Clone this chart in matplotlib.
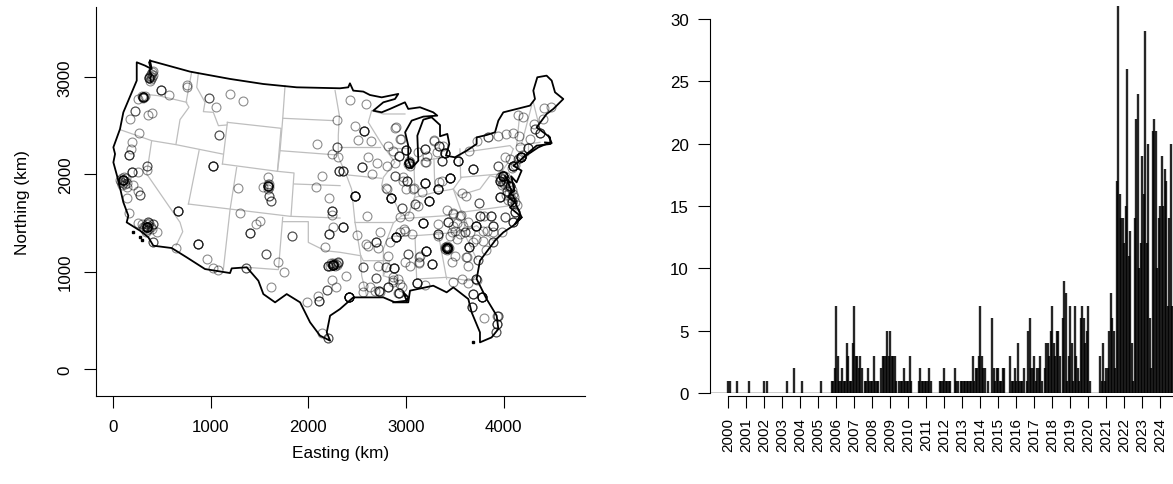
import numpy as np
import matplotlib
matplotlib.use('Agg')
import matplotlib.pyplot as plt

plt.rcParams['font.family'] = ['Liberation Sans', 'DejaVu Sans']

# outline of the lower 48, km
outline_e = [379, 789, 1198, 1539, 1880, 2324, 2408, 2425, 2459, 2562, 2630, 2750, 2920, 2886, 2767, 2664,
             2750, 2835, 2988, 3022, 3142, 3278, 3319, 3176, 3057, 2990, 3022, 3022, 3057, 3125, 3115, 3176,
             3261, 3347, 3347, 3422, 3442, 3408, 3500, 3620, 3722, 3722, 3824, 3910, 3944, 3995, 4268, 4319,
             4302, 4343, 4438, 4490, 4524, 4609, 4507, 4438, 4387, 4336, 4473, 4479, 4336, 4234, 4165, 4097,
             4182, 4131, 4075, 4110, 4060, 4097, 4131, 4182, 4097, 3995, 3910, 3756, 3722, 3824, 3927, 3944,
             3875, 3756, 3756, 3671, 3637, 3483, 3415, 3278, 3040, 3022, 2886, 2767, 2596, 2459, 2323, 2222,
             2188, 2222, 2119, 2017, 1915, 1778, 1659, 1539, 1488, 1369, 1215, 1198, 942, 755, 601, 413, 362,
             277, 140, 157, 106, 55, 4, 21, 4, 72, 106, 192, 243, 243, 328, 396, 379]
outline_n = [3168, 3055, 2980, 2928, 2894, 2884, 2894, 2935, 2860, 2850, 2815, 2791, 2826, 2774, 2740, 2654,
             2637, 2672, 2740, 2672, 2689, 2637, 2603, 2593, 2552, 2432, 2295, 2141, 2062, 2141, 2397, 2562,
             2586, 2507, 2391, 2415, 2312, 2192, 2175, 2243, 2312, 2380, 2404, 2432, 2552, 2637, 2706, 2774,
             2860, 2997, 3014, 2963, 2843, 2774, 2672, 2620, 2552, 2483, 2380, 2312, 2295, 2209, 2141, 2089,
             2038, 1918, 1980, 1830, 1800, 1781, 1678, 1558, 1473, 1404, 1319, 1113, 925, 719, 548, 411,
             325, 274, 377, 582, 719, 839, 788, 856, 805, 685, 685, 736, 736, 736, 616, 548,
             377, 291, 343, 480, 685, 770, 685, 770, 907, 1045, 1034, 986, 1027, 1147, 1243, 1267, 1353,
             1421, 1507, 1575, 1713, 1935, 2123, 2209, 2278, 2466, 2637, 2843, 2963, 3151, 3117, 3082, 3168]

# bits of coast the outline skips: sounds, bays, islands
coast_bits = [
    ([370, 385, 375, 395, 380, 390], [3150, 3090, 3060, 3020, 2990, 2950]),
    ([4063, 4012, 4080, 4046, 4115, 4063, 4166, 4115, 4183], [1917, 1986, 1832, 1763, 1712, 1660, 1575, 1489, 1558]),
    ([4200, 4353, 4473], [2174, 2277, 2328]),
    ([4456, 4490, 4422], [2397, 2321, 2328]),
    ([2869, 3006, 3023, 2972, 3006], [685, 702, 736, 787, 700]),
]
island_e = [202, 277, 294, 3688]
island_n = [1404, 1353, 1329, 274]

# state borders, km, one pair of lists per line
state_lines = [
    ([294, 464, 755], [2826, 2808, 2740]),
    ([806, 748, 778, 686, 645], [3055, 2740, 2689, 2562, 2312]),
    ([72, 396, 645, 1120], [2459, 2346, 2305, 2209]),
    ([396, 345, 686, 714, 645], [2346, 2004, 1507, 1411, 1267]),
    ([874, 857, 942, 925, 1027, 1079, 1164], [3041, 2894, 2740, 2644, 2637, 2500, 2507]),
    ([1171, 1120], [2534, 2106]),
    ([1171, 1720, 1683, 1120], [2534, 2473, 2031, 2106]),
    ([881, 772], [2243, 1695]),
    ([772, 1812, 2324], [1695, 1569, 1551]),
    ([1266, 1198, 1130], [2072, 1637, 1027]),
    ([1683, 1853, 1822], [2031, 2014, 1569]),
    ([1853, 2324], [1901, 1884]),
    ([1710, 2290], [2243, 2199]),
    ([1761, 1737, 1710, 1683], [2911, 2569, 2243, 2031]),
    ([1737, 2256], [2576, 2552]),
    ([1737, 1693, 1369], [1558, 1021, 1045]),
    ([1737, 1999, 1999, 2170, 2324, 2535], [1514, 1514, 1301, 1216, 1199, 1164]),
    ([2273, 2317, 2306, 2306, 2391, 2442, 2477], [2860, 2603, 2400, 2180, 1986, 1849, 1507]),
    ([2323, 2732], [2278, 2278]),
    ([2647, 2613, 2750, 2886, 2767, 2750, 2869, 2954, 2869, 2767, 2767, 2920],
     [2654, 2534, 2312, 2124, 1969, 1884, 1747, 1575, 1500, 1233, 959, 907]),
    ([2647, 2767, 2988], [2654, 2620, 2620]),
    ([2818, 3022], [2267, 2267]),
    ([2408, 2750], [1993, 1959]),
    ([2477, 2869], [1507, 1507]),
    ([2477, 2535, 2562, 2835, 2767], [1507, 1164, 1113, 1113, 959]),
    ([2535, 2545, 2596], [1164, 959, 753]),
    ([3080, 3091, 3022], [2124, 1781, 1582]),
    ([2954, 3022, 3091, 3295, 3483, 3568], [1575, 1582, 1764, 1815, 1849, 1969]),
    ([3285, 3295], [2165, 1815]),
    ([3551, 3558], [2261, 1969]),
    ([3159, 3415], [2141, 2175]),
    ([2903, 3415, 3568, 4063], [1541, 1576, 1610, 1678]),
    ([2852, 3091, 3330, 3568, 3620, 3568], [1363, 1370, 1387, 1411, 1507, 1610]),
    ([3091, 3108], [1370, 925]),
    ([3330, 3415], [1387, 925]),
    ([3108, 3415, 3637, 3722], [925, 942, 908, 925]),
    ([3586, 3722, 3893, 3995], [1411, 1473, 1319, 1404]),
    ([3586, 3722], [1411, 1130]),
    ([3558, 3961, 4046, 4097], [1969, 2004, 2124, 2261]),
    ([3585, 4063, 4097], [2226, 2295, 2260]),
    ([3483, 3534, 3756, 3858, 3927], [1849, 1781, 1849, 1986, 1969]),
    ([3483, 3568], [1849, 1610]),
    ([4131, 4370], [2295, 2329]),
    ([4165, 4131], [2637, 2295]),
    ([4285, 4182], [2706, 2312]),
    ([4302, 4370], [2740, 2466]),
    ([4250, 4250], [2320, 2200]),
]

# sites, km, with how many records sit on each
site_e = [413, 372, 488, 570, 755, 761, 311, 260, 222, 174, 362, 403, 983, 1198, 1335, 1051, 1082, 270, 198, 181,
          161, 352, 345, 192, 253, 106, 202, 140, 277, 253, 147, 168, 1027, 662, 874, 645, 963, 1021, 1079, 1358,
          345, 260, 413, 447, 362, 413, 1283, 1590, 1590, 1532, 1601, 1614, 1300, 1505, 1461, 1399, 1570, 1693,
          1754, 1829, 1618, 1986, 2095, 2109, 2191, 2239, 2283, 2205, 2143, 2085, 2297, 2290, 2239, 2307, 2136,
          2075, 2215, 2239, 2239, 2256, 2215, 2174, 2256, 2205, 2307, 2317,
          2425, 2586, 2473, 2565, 2511, 2637, 2886, 2944, 2818, 2862, 2613, 2705, 2545, 2654, 2801, 2350, 2886,
          2930, 2999, 3033, 3190, 3217, 3203, 3289, 3336, 3398, 3371, 3534, 3688, 3647, 3729, 3841, 3944, 4022,
          4090, 4155, 4148, 4200, 4309, 4319, 4370, 4268, 4411, 4480, 4397, 4251, 4166, 4172, 4097, 4012, 4063,
          3944, 3995, 3961, 4063, 3961, 4029, 4080, 2886, 2971, 3005, 2999, 3080, 3190, 3159, 3336, 3330, 3449,
          2794, 2842, 2473, 2596, 2357, 2497, 2954, 3091, 3125, 3234, 3422, 3568, 3613, 3749, 3483, 3558, 2937,
          3029, 3176, 3330, 3425, 3517, 3637, 3712, 3756, 3797, 3865, 3886, 4012, 4114, 4097, 3783, 3886, 3978,
          3500, 3602, 3330, 3466, 3517, 3893, 3715, 3814, 3415, 3203, 3647, 3500, 3613, 3739, 3466, 3637, 3142,
          3135, 3261, 3022, 2988, 3040, 2896, 2688, 2613, 2715, 2732, 2982, 2937, 2835, 2811, 2562, 2715, 2794,
          2879, 2388, 2692, 2555, 2415, 2726, 2818, 2869, 2937, 2930, 3108, 3193, 3483, 3568, 3637, 3715, 3688,
          3780, 3671, 3800, 3944, 3934, 3920, 3449, 3586, 3688, 3824, 3790]
site_n = [3065, 2987, 2867, 2812, 2922, 2901, 2795, 2774, 2654, 2565, 2610, 2627, 2781, 2822, 2750, 2689, 2404, 2421, 2336, 2260,
          2199, 2086, 2048, 2024, 2021, 1942, 1894, 1867, 1791, 1832, 1754, 1606, 2082, 1627, 1281, 1240, 1130, 1038, 1014, 1038,
          1456, 1500, 1490, 1411, 1507, 1301, 1856, 1884, 1969, 1873, 1781, 1726, 1600, 1521, 1490, 1397, 1185, 1096,
          997, 1367, 839, 685, 747, 702, 812, 918, 839, 319, 370, 2315, 2562, 2278, 2209, 2175, 1983,
          1867, 1757, 1620, 1586, 1456, 1384, 1257, 1069, 1062, 1096, 2031,
          2767, 2719, 2497, 2449, 2356, 2343, 2480, 2363, 2295, 2243, 2182, 2113, 2072, 2007, 2089, 2031, 2113,
          2185, 2250, 2113, 2260, 2192, 2124, 2356, 2295, 2219, 2141, 2141, 2055, 2243, 2346, 2380, 2391, 2415,
          2425, 2391, 2613, 2586, 2517, 2466, 2425, 2363, 2682, 2689, 2569, 2267, 2285, 2182, 2082, 2175, 2158,
          2089, 1980, 1935, 1884, 1764, 1832, 1712, 1983, 1969, 1928, 1849, 1856, 1911, 1822, 1918, 1853, 1962,
          1856, 1754, 1781, 1572, 1459, 1377, 1651, 1695, 1678, 1730, 1637, 1805, 1774, 1706, 1603, 1582, 1558,
          1575, 1500, 1490, 1510, 1497, 1514, 1473, 1569, 1576, 1569, 1473, 1558, 1610, 1507, 1415, 1404, 1404,
          1421, 1404, 1387, 1404, 1336, 1301, 1336, 1223, 1243, 1216, 1254, 1164, 1147, 1123, 1096, 1055, 1164,
          1096, 1079, 1182, 1103, 1062, 1353, 1302, 1267, 1240, 1411, 1438, 1404, 1301, 1158, 1052, 1055, 1045,
          1034, 959, 932, 849, 743, 805, 839, 918, 873, 777, 880, 863, 890, 925, 880, 925, 770,
          736, 634, 520, 548, 462, 377, 1370, 1473, 1302, 1421, 1319]
site_count = [1, 3, 3, 1, 1, 1, 5, 1, 2, 1, 1, 1, 2, 1, 1, 1, 2, 1, 1, 1,
              3, 2, 1, 3, 1, 8, 1, 1, 2, 1, 1, 1, 4, 4, 4, 1, 1, 1, 1, 2,
              10, 1, 2, 1, 2, 2, 1, 6, 1, 1, 2, 2, 1, 1, 1, 3, 2, 1,
              1, 2, 1, 1, 1, 3, 2, 1, 1, 2, 1, 1, 1, 2, 1, 1, 1,
              1, 1, 3, 1, 1, 3, 1, 10, 2, 2, 3,
              1, 1, 1, 4, 1, 1, 1, 1, 1, 1, 1, 1, 3, 1, 1, 3, 1,
              3, 4, 8, 3, 1, 1, 1, 3, 5, 3, 5, 4, 1, 1, 2, 1, 1,
              1, 1, 1, 1, 1, 2, 3, 1, 1, 1, 1, 3, 1, 8, 5, 1, 1,
              2, 8, 4, 3, 4, 2, 3, 2, 1, 3, 1, 1, 5, 1, 1, 5, 6,
              1, 6, 6, 1, 4, 1, 2, 2, 1, 5, 1, 1, 1, 2, 1, 1, 1,
              1, 5, 1, 3, 1, 1, 5, 3, 1, 3, 3, 2, 3, 3, 1, 1, 1,
              1, 2, 3, 1, 1, 2, 1, 1, 25, 5, 4, 1, 1, 2, 1, 1, 1,
              1, 3, 1, 1, 1, 6, 3, 1, 1, 1, 1, 1, 1, 1, 2, 1, 2,
              3, 1, 2, 1, 8, 3, 2, 1, 1, 3, 4, 1, 1, 1, 1, 3, 3,
              6, 3, 1, 2, 3, 2, 1, 1, 1, 1, 1]

# further sites: in and around the dense metro clusters, and the east
extra_e = [390, 380, 400, 370, 395, 385, 405, 375, 300, 320, 305, 325,
           90, 120, 100, 130, 85, 115, 75, 140, 95, 125,
           330, 360, 345, 370, 320, 300, 385, 350, 335, 400, 310, 365,
           3405, 3425, 3400, 3430, 3415, 3415, 3395, 3435,
           2200, 2220, 2240, 2260, 2280, 2300, 2230, 2270, 2250, 2290,
           3985, 4000, 3975, 3990, 4010, 3965, 4000, 4020, 4040, 3980,
           1585, 1595, 1590, 1600, 3025, 3040, 3020, 3045, 4160, 4185, 4150, 4085, 4110,
           4063, 4080, 4090, 4100, 4070, 4050, 4110, 4130, 4020, 4040,
           2893, 2937, 2971, 3074, 3364, 3285, 3313, 3125, 3193, 3381, 2801, 3483, 3552, 2989, 3057, 3330,
           3483, 3552, 3654, 2880, 3016, 3135, 3135, 3261, 3620, 2590, 2733, 2818, 2869, 2920, 2681, 2562,
           2630, 2869, 2920, 2955, 3722, 3927]
extra_n = [3030, 3010, 3050, 3000, 3000, 2975, 3020, 2960, 2800, 2790, 2785, 2800,
           1960, 1930, 1910, 1960, 1925, 1975, 1945, 1915, 1890, 1900,
           1470, 1440, 1430, 1470, 1445, 1490, 1455, 1490, 1410, 1440, 1460, 1500,
           1250, 1235, 1235, 1255, 1265, 1225, 1255, 1240,
           1060, 1060, 1065, 1075, 1080, 1090, 1085, 1055, 1090, 1065,
           1995, 1960, 1950, 1920, 1985, 1975, 1900, 1930, 1880, 1895,
           1900, 1870, 1850, 1905, 2140, 2090, 2110, 2125, 2170, 2195, 2160, 2070, 2095,
           1884, 1840, 1800, 1770, 1760, 1810, 1720, 1690, 1790, 1740,
           2482, 2362, 1934, 1849, 1934, 2345, 2225, 2225, 2123, 2294, 1849, 1592, 1575, 1421, 1386, 1369,
           1472, 1386, 1403, 1034, 1181, 1147, 1085, 1078, 1147, 1284, 787, 838, 941, 780, 804, 787,
           839, 890, 924, 839, 917, 542]

# records per month
year_labels = list(range(2000, 2025))
monthly_counts = (
    [1, 1, 0, 0, 0, 0, 1, 0, 0, 0, 0, 0] +
    [0, 0, 1, 0, 0, 0, 0, 0, 0, 0, 0, 0] +
    [1, 0, 1, 0, 0, 0, 0, 0, 0, 0, 0, 0] +
    [0, 0, 0, 1, 0, 0, 0, 0, 2, 0, 0, 0] +
    [0, 1, 0, 0, 0, 0, 0, 0, 0, 0, 0, 0] +
    [0, 0, 1, 0, 0, 0, 0, 0, 0, 1, 1, 2] +
    [7, 3, 1, 1, 2, 1, 1, 4, 3, 1, 1, 4] +
    [7, 3, 3, 2, 3, 2, 0, 1, 1, 2, 1, 1] +
    [1, 3, 1, 1, 1, 0, 2, 3, 3, 3, 5, 3] +
    [5, 3, 3, 3, 1, 0, 1, 1, 1, 2, 1, 1] +
    [1, 3, 1, 0, 0, 0, 0, 1, 2, 1, 1, 1] +
    [1, 1, 2, 1, 0, 0, 0, 0, 0, 1, 1, 1] +
    [2, 1, 1, 1, 1, 0, 0, 2, 1, 1, 0, 1] +
    [1, 1, 1, 1, 1, 1, 1, 3, 1, 2, 2, 3] +
    [7, 3, 2, 2, 0, 1, 0, 0, 6, 2, 1, 2] +
    [2, 1, 1, 2, 2, 0, 0, 0, 3, 1, 1, 2] +
    [1, 4, 1, 1, 1, 2, 0, 1, 5, 6, 2, 2] +
    [3, 1, 2, 2, 3, 1, 0, 2, 4, 4, 3, 5] +
    [7, 4, 3, 5, 5, 3, 0, 6, 9, 8, 1, 3] +
    [7, 4, 1, 7, 3, 2, 1, 6, 7, 6, 4, 5] +
    [7, 1, 0, 0, 0, 0, 0, 0, 3, 1, 4, 1] +
    [2, 2, 5, 8, 6, 5, 2, 17, 31, 16, 14, 14] +
    [12, 15, 26, 11, 13, 4, 1, 14, 22, 24, 10, 12] +
    [19, 16, 29, 12, 20, 6, 2, 21, 22, 21, 10, 14] +
    [15, 19, 15, 18, 17, 7, 14, 20, 7]
)

W, H = 1173, 485


def axes_px(fig, left, top, right, bottom):
    return fig.add_axes([left / W, 1 - bottom / H, (right - left) / W, (bottom - top) / H])


fig = plt.figure(figsize=(W / 100, H / 100), dpi=100)

# map panel
ax = axes_px(fig, 95.5, 8, 585, 397)
for xs, ys in state_lines:
    ax.plot(xs, ys, color='#bebebe', lw=0.9, zorder=1)
all_e = np.concatenate([np.repeat(site_e, site_count), extra_e])
all_n = np.concatenate([np.repeat(site_n, site_count), extra_n])
ax.plot(all_e, all_n, 'o', ms=6.4, mfc='none', mec='black', mew=0.8, alpha=0.45, zorder=2, ls='none')
ax.plot(outline_e, outline_n, color='black', lw=1.3, zorder=3)
for xs, ys in coast_bits:
    ax.plot(xs, ys, color='black', lw=1.3, zorder=3)
ax.plot(island_e, island_n, 's', ms=1.5, color='black', zorder=3)
ax.set_xlim(-179, 4831)
ax.set_ylim(-277, 3719)
ax.set_xticks([0, 1000, 2000, 3000, 4000])
ax.set_yticks([0, 1000, 2000, 3000])
ax.tick_params(length=8.3, width=0.8, labelsize=12.2, pad=8)
for t in ax.get_yticklabels():
    t.set_rotation(90)
    t.set_va('center')
ax.spines['top'].set_visible(False)
ax.spines['right'].set_visible(False)
ax.spines['left'].set_linewidth(0.8)
ax.spines['bottom'].set_linewidth(0.8)
ax.set_xlabel('Easting (km)', fontsize=12.4, labelpad=8)
ax.set_ylabel('Northing (km)', fontsize=12.4, labelpad=20)

# monthly bars
ax2 = axes_px(fig, 710, 5, 1173, 394)
months = 2000 + np.arange(len(monthly_counts)) / 12
counts = np.array(monthly_counts)
ax2.vlines(months[counts > 0], 0, counts[counts > 0], color='black', lw=1.7, alpha=0.85)
ax2.axhline(0, color='black', lw=1.0)
ax2.set_xlim(1999, 2024.72)
ax2.set_ylim(0, 31.2)
ax2.set_yticks([0, 5, 10, 15, 20, 25, 30])
ax2.set_xticks(year_labels)
ax2.set_xticklabels([str(y) for y in year_labels])
ax2.tick_params(axis='y', length=8.3, width=0.8, labelsize=12.2, pad=7)
ax2.tick_params(axis='x', length=8.3, width=0.8, labelsize=11, pad=7, labelrotation=90)
ax2.spines['top'].set_visible(False)
ax2.spines['right'].set_visible(False)
ax2.spines['left'].set_bounds(0, 30)
ax2.spines['left'].set_linewidth(0.8)
ax2.spines['bottom'].set_position(('outward', 2.2))
ax2.spines['bottom'].set_bounds(2000, 2024.72)
ax2.spines['bottom'].set_linewidth(0.8)

fig.savefig('out.png', dpi=100)
